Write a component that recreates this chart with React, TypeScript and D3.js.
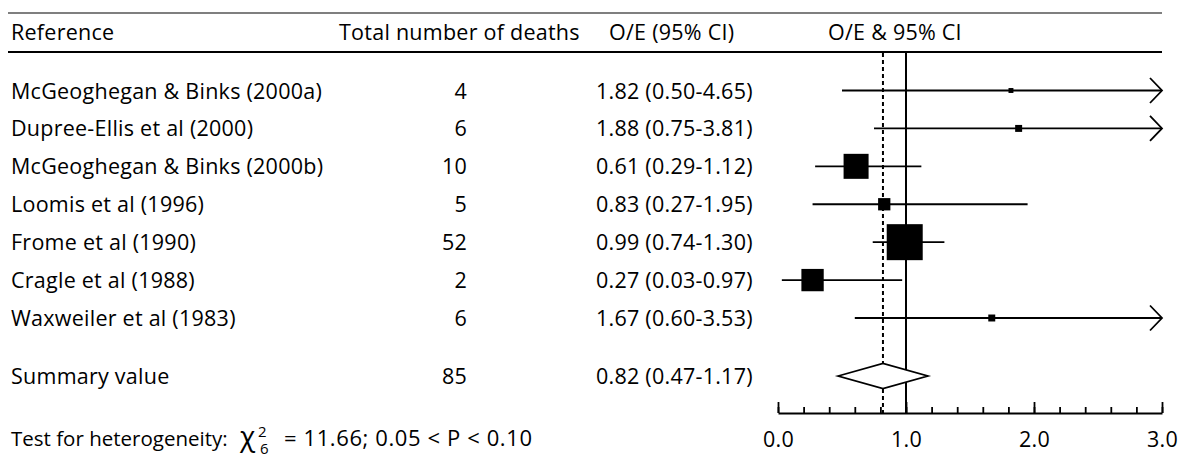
import React, { useEffect, useRef } from 'react';
import * as d3 from 'd3';

// study rows
const studies = [
  'McGeoghegan & Binks (2000a)',
  'Dupree-Ellis et al (2000)',
  'McGeoghegan & Binks (2000b)',
  'Loomis et al (1996)',
  'Frome et al (1990)',
  'Cragle et al (1988)',
  'Waxweiler et al (1983)',
];
const deaths = [4, 6, 10, 5, 52, 2, 6];
const oe = [1.82, 1.88, 0.61, 0.83, 0.99, 0.27, 1.67];
const lower = [0.5, 0.75, 0.29, 0.27, 0.74, 0.03, 0.6];
const upper = [4.65, 3.81, 1.12, 1.95, 1.3, 0.97, 3.53];
// relative weight (%) -> box area
const weights = [0.9, 1.8, 23.2, 5.6, 48.1, 18.5, 1.8];

const summaryLabel = 'Summary value';
const summaryDeaths = 85;
const summaryOE = 0.82;
const summaryLower = 0.47;
const summaryUpper = 1.17;

const headers = ['Reference', 'Total number of deaths', 'O/E (95% CI)', 'O/E & 95% CI'];
const majorTicks = [0, 1, 2, 3];
const minorTicks = d3.range(0, 16).map(i => +(i * 0.2).toFixed(1));

const W = 1180;
const H = 457;
const FONT = '"Open Sans", "Noto Sans", sans-serif';

export default function App() {
  const svgRef = useRef<SVGSVGElement>(null);

  useEffect(() => {
    if (!svgRef.current) return;
    const svg = d3.select(svgRef.current);
    svg.selectAll('*').remove();
    svg.style('font-family', FONT);

    const x = d3.scaleLinear().domain([0, 3]).range([778, 1162]);
    const y = d3.scaleLinear().domain([0, studies.length - 1]).range([90.5, 318]);
    const ySummary = 376;
    const size = d3.scaleSqrt().domain([0, d3.max(weights) || 1]).range([0, 36]);
    const axisY = 413;
    const fs = '21.5px';
    const ls = '0.25px';

    const txt = (sel: any) => sel.style('font-size', fs).style('letter-spacing', ls).attr('fill', '#000');

    // rules
    svg.append('line')
      .attr('x1', 8).attr('x2', 1162).attr('y1', 13).attr('y2', 13)
      .attr('stroke', '#555').attr('stroke-width', 1.5);
    svg.append('line')
      .attr('x1', 8).attr('x2', 1162).attr('y1', 52).attr('y2', 52)
      .attr('stroke', '#000').attr('stroke-width', 2);

    // headers
    const hx = [11, 339, 609, 828];
    svg.selectAll('text.hdr')
      .data(headers)
      .enter()
      .append('text')
      .attr('class', 'hdr')
      .attr('x', (d, i) => hx[i])
      .attr('y', 40)
      .call(txt)
      .text(d => d);

    // reference lines
    svg.append('line')
      .attr('x1', x(summaryOE)).attr('x2', x(summaryOE))
      .attr('y1', 53).attr('y2', axisY)
      .attr('stroke', '#000').attr('stroke-width', 2)
      .attr('stroke-dasharray', '4,3');
    svg.append('line')
      .attr('x1', x(1)).attr('x2', x(1))
      .attr('y1', 53).attr('y2', axisY)
      .attr('stroke', '#000').attr('stroke-width', 2);

    const rows = svg.selectAll('g.row')
      .data(studies.map((s, i) => ({ s, i })))
      .enter()
      .append('g')
      .attr('class', 'row');

    rows.append('text')
      .attr('x', 11)
      .attr('y', d => y(d.i) + 8)
      .call(txt)
      .text(d => d.s);

    rows.append('text')
      .attr('x', 467)
      .attr('y', d => y(d.i) + 8)
      .attr('text-anchor', 'end')
      .call(txt)
      .text(d => deaths[d.i]);

    rows.append('text')
      .attr('x', 596)
      .attr('y', d => y(d.i) + 8)
      .call(txt)
      .text(d => `${oe[d.i].toFixed(2)} (${lower[d.i].toFixed(2)}-${upper[d.i].toFixed(2)})`);

    // CI lines
    const xMax = x.domain()[1];
    rows.append('line')
      .attr('x1', d => x(Math.max(0, lower[d.i])))
      .attr('x2', d => x(Math.min(xMax, upper[d.i])))
      .attr('y1', d => y(d.i))
      .attr('y2', d => y(d.i))
      .attr('stroke', '#000')
      .attr('stroke-width', 1.8);

    // arrows for truncated CIs
    rows.filter(d => upper[d.i] > xMax)
      .append('path')
      .attr('d', d => {
        const tx = x(xMax), ty = y(d.i);
        return `M${tx - 12},${ty - 12.5}L${tx},${ty}L${tx - 12},${ty + 12.5}`;
      })
      .attr('fill', 'none')
      .attr('stroke', '#000')
      .attr('stroke-width', 1.8);

    // boxes
    rows.append('rect')
      .attr('x', d => x(oe[d.i]) - size(weights[d.i]) / 2)
      .attr('y', d => y(d.i) - size(weights[d.i]) / 2)
      .attr('width', d => size(weights[d.i]))
      .attr('height', d => size(weights[d.i]))
      .attr('fill', '#000');

    // summary
    svg.append('text')
      .attr('x', 11).attr('y', ySummary + 8)
      .call(txt)
      .text(summaryLabel);
    svg.append('text')
      .attr('x', 467).attr('y', ySummary + 8)
      .attr('text-anchor', 'end')
      .call(txt)
      .text(summaryDeaths);
    svg.append('text')
      .attr('x', 596).attr('y', ySummary + 8)
      .call(txt)
      .text(`${summaryOE.toFixed(2)} (${summaryLower.toFixed(2)}-${summaryUpper.toFixed(2)})`);
    svg.append('path')
      .attr('d', `M${x(summaryLower)},${ySummary}L${x(summaryOE)},${ySummary - 12.5}L${x(summaryUpper)},${ySummary}L${x(summaryOE)},${ySummary + 12.5}Z`)
      .attr('fill', '#fff')
      .attr('stroke', '#000')
      .attr('stroke-width', 1.8);

    // axis
    const gMinor = svg.append('g')
      .attr('transform', `translate(0,${axisY})`)
      .call(d3.axisBottom(x).tickValues(minorTicks).tickSize(-6).tickSizeOuter(0).tickFormat(() => ''));
    gMinor.select('.domain').attr('stroke-width', 2);
    gMinor.selectAll('.tick line').attr('stroke-width', 1.8);

    const gMajor = svg.append('g')
      .attr('transform', `translate(0,${axisY})`)
      .call(d3.axisBottom(x).tickValues(majorTicks).tickSize(-11).tickSizeOuter(0).tickPadding(19).tickFormat(d3.format('.1f')));
    gMajor.select('.domain').remove();
    gMajor.selectAll('.tick line').attr('stroke-width', 1.8);
    gMajor.selectAll('.tick text')
      .style('font-family', FONT)
      .call(txt);

    // heterogeneity test
    const bottomY = 446;
    svg.append('text')
      .attr('x', 11).attr('y', bottomY)
      .style('font-size', '20.5px')
      .attr('fill', '#000')
      .text('Test for heterogeneity:');
    svg.append('text')
      .attr('x', 240).attr('y', bottomY)
      .style('font-size', '28px')
      .text('χ');
    svg.append('text')
      .attr('x', 258).attr('y', bottomY - 9)
      .style('font-size', '15px')
      .text('2');
    svg.append('text')
      .attr('x', 260).attr('y', bottomY + 8)
      .style('font-size', '15px')
      .text('6');
    svg.append('text')
      .attr('x', 284).attr('y', bottomY)
      .style('font-size', '22px')
      .style('letter-spacing', '0.6px')
      .attr('fill', '#000')
      .text('= 11.66; 0.05 < P < 0.10');
  }, []);

  return (
    <svg
      ref={svgRef}
      width={W}
      height={H}
      viewBox={`0 0 ${W} ${H}`}
      style={{ position: 'absolute', left: 0, top: 0, background: '#fff' }}
    />
  );
}
